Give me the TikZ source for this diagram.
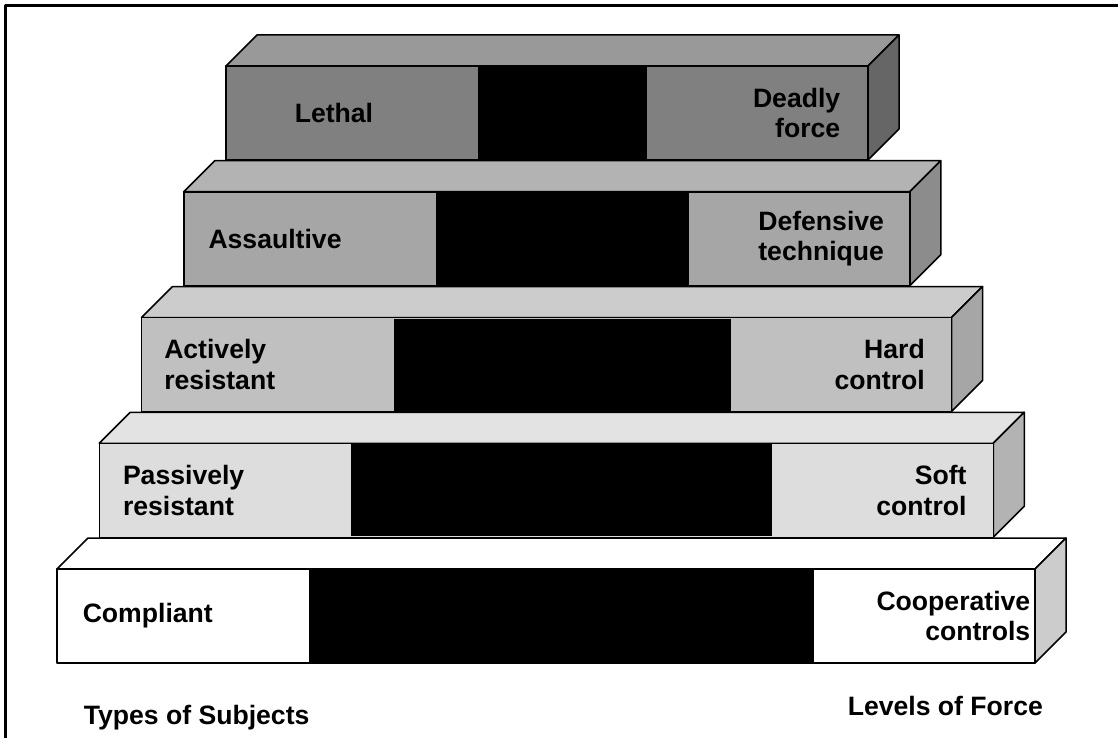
\documentclass[tikz,border=0pt]{standalone}
\usepackage{fontspec}
\setmainfont{Liberation Sans}

\begin{document}
\begin{tikzpicture}[x=1pt,y=-1pt,line join=round,line width=1.5pt,
  every node/.style={inner sep=0pt,font=\fontsize{26.6}{30.5}\selectfont\bfseries}]
\useasboundingbox (0,0) rectangle (1118,738);

\newcommand{\tier}[4] % {n}{front}{top}{side}
{
 \definecolor{front}{HTML}{#2}
 \definecolor{top}{HTML}{#3}
 \definecolor{side}{HTML}{#4}
 \pgfmathsetmacro{\xl}{226-42.25*(#1-1)}
 \pgfmathsetmacro{\xr}{868+41.75*(#1-1)}
 \pgfmathsetmacro{\yt}{66+125.75*(#1-1)}
 \pgfmathsetmacro{\yb}{\yt+94}
 \filldraw[fill=top] (\xl,\yt) -- ++(\dz,-\dz) -- (\xr+\dz,\yt-\dz) -- (\xr,\yt) -- cycle;
 \filldraw[fill=side] (\xr,\yt) -- ++(\dz,-\dz) -- (\xr+\dz,\yb-\dz) -- (\xr,\yb) -- cycle;
 \filldraw[fill=front] (\xl,\yt) rectangle (\xr,\yb);
 \fill[black] (\xl+252,\yt+1) rectangle (\xr-221,\yb-1);
 \coordinate (w#1) at (\xl,{(\yt+\yb)/2});
 \coordinate (e#1) at (\xr,{(\yt+\yb)/2});
}

\def\dz{31}
% frame
\draw[line width=3pt] (5,738) -- (5,6) -- (1118,6);

% tiers, bottom up
\tier{5}{FFFFFF}{FFFFFF}{CCCCCC}
\tier{4}{DDDDDD}{E3E3E3}{B3B3B3}
\tier{3}{C0C0C0}{CCCCCC}{A6A6A6}
\tier{2}{A6A6A6}{B3B3B3}{8C8C8C}
\tier{1}{808080}{999999}{666666}

\node[anchor=west] (lethal) at ([xshift=68pt]w1) {Lethal};
\node[anchor=east,align=right] (deadly) at ([xshift=-27pt]e1) {Deadly\\force};
\node[anchor=west] (assault) at ([xshift=24pt]w2) {Assaultive};
\node[anchor=east,align=right] (defensive) at ([xshift=-25pt]e2) {Defensive\\technique};
\node[anchor=west,align=left] (active) at ([xshift=22pt]w3) {Actively\\resistant};
\node[anchor=east,align=right] (hard) at ([xshift=-26pt]e3) {Hard\\control};
\node[anchor=west,align=left] (passive) at ([xshift=23pt]w4) {Passively\\resistant};
\node[anchor=east,align=right] (soft) at ([xshift=-26pt]e4) {Soft\\control};
\node[anchor=west] (compliant) at ([xshift=25pt]w5) {Compliant};
\node[anchor=east,align=right] (coop) at ([xshift=-4pt]e5) {Cooperative\\controls};

\node[anchor=base west] (subjects) at (83,724) {Types of Subjects};
\node[anchor=base west] (levels) at (847,715) {Levels of Force};
\end{tikzpicture}
\end{document}
